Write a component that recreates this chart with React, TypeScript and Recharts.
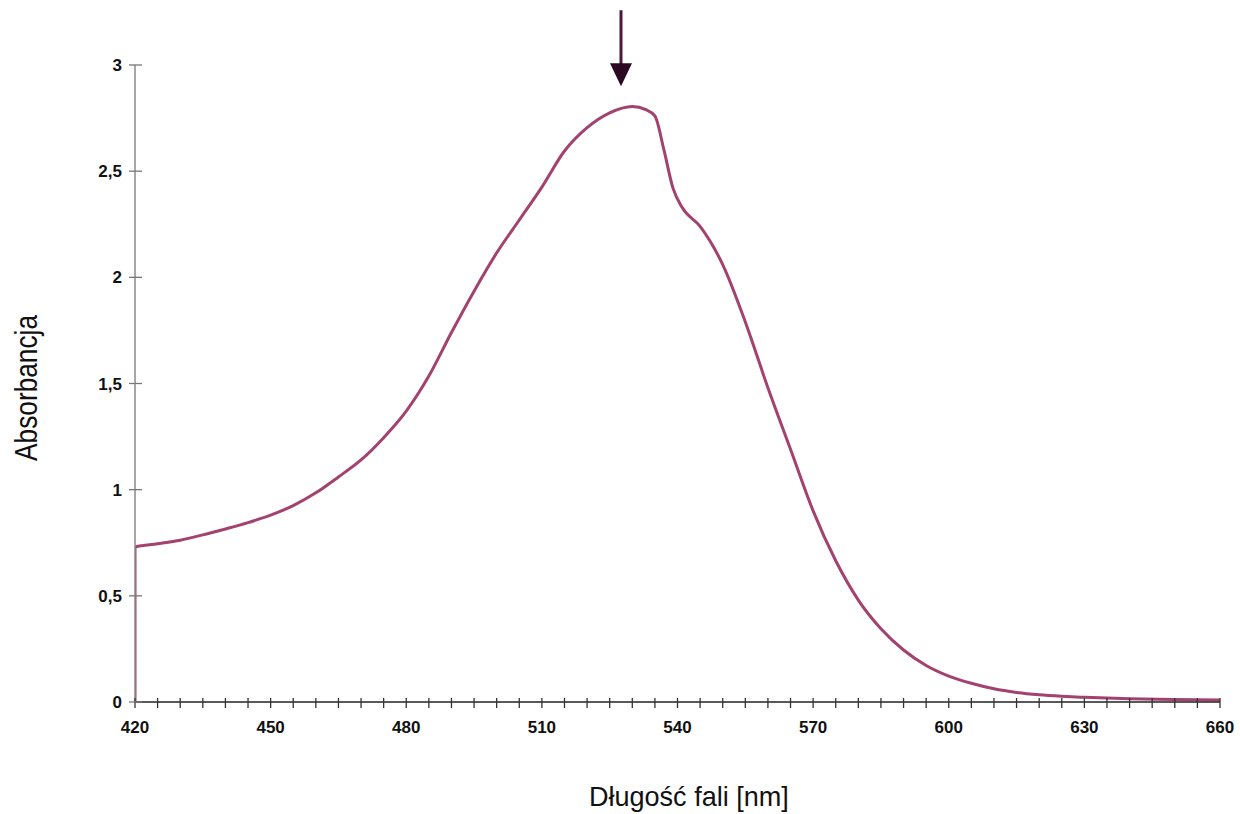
import React from "react";
import { LineChart, Line, XAxis, YAxis, ReferenceDot, Label } from "recharts";

const wavelengths: number[] = [
  420, 420, 425, 430, 435, 440, 445, 450, 455, 460, 465, 470, 475, 480, 485, 490,
  495, 500, 505, 510, 515, 520, 525, 530, 533, 535, 537, 539, 541, 545, 550, 555,
  560, 565, 570, 575, 580, 585, 590, 595, 600, 605, 610, 615, 620, 625, 630, 640,
  650, 660,
];
const absorbance: number[] = [
  0, 0.73, 0.745, 0.762, 0.787, 0.815, 0.845, 0.88, 0.925, 0.985, 1.06, 1.14, 1.245,
  1.37, 1.535, 1.74, 1.935, 2.115, 2.27, 2.425, 2.595, 2.705, 2.775, 2.805, 2.79,
  2.76, 2.6, 2.42, 2.33, 2.24, 2.06, 1.79, 1.48, 1.19, 0.9, 0.665, 0.48, 0.345,
  0.245, 0.172, 0.122, 0.088, 0.062, 0.045, 0.034, 0.027, 0.022, 0.015, 0.012, 0.009,
];
const xTicks: number[] = [
  420, 425, 430, 435, 440, 445, 450, 455, 460, 465, 470, 475, 480, 485, 490, 495,
  500, 505, 510, 515, 520, 525, 530, 535, 540, 545, 550, 555, 560, 565, 570, 575,
  580, 585, 590, 595, 600, 605, 610, 615, 620, 625, 630, 635, 640, 645, 650, 655, 660,
];
const xLabelled: number[] = [420, 450, 480, 510, 540, 570, 600, 630, 660];
const yTicks: number[] = [0, 0.5, 1, 1.5, 2, 2.5, 3];
const arrowAt = { nm: 527.5, value: 2.9 };
const xTitle = "Długość fali [nm]";
const yTitle = "Absorbancja";

const data = wavelengths.map((nm, i) => ({ nm, a: absorbance[i] }));

const FONT = "'Liberation Sans', Arial, Helvetica, sans-serif";

const XTick = (props: any) => {
  const { x, y, payload } = props;
  const v = payload.value;
  return (
    <g>
      <line x1={x} x2={x} y1={y - 4} y2={y + 6} stroke="#333" strokeWidth={1.3} />
      {xLabelled.includes(v) && (
        <text x={x} y={y + 31} textAnchor="middle" fontFamily={FONT} fontWeight="bold" fontSize={17} fill="#111">
          {v}
        </text>
      )}
    </g>
  );
};

const YTick = (props: any) => {
  const { x, y, payload } = props;
  const label = String(payload.value).replace(".", ",");
  return (
    <g>
      <line x1={x - 6} x2={x + 7} y1={y} y2={y} stroke="#777" strokeWidth={1.3} />
      <text x={x - 13} y={y + 6} textAnchor="end" fontFamily={FONT} fontWeight="bold" fontSize={17} fill="#111">
        {label}
      </text>
    </g>
  );
};

const Arrow = (props: any) => {
  const { cx, cy } = props;
  if (cx == null || cy == null) return null;
  return (
    <g>
      <line x1={cx} x2={cx} y1={cy - 76} y2={cy - 20} stroke="#4a1a3c" strokeWidth={3} />
      <polygon points={`${cx - 11},${cy - 23} ${cx + 11},${cy - 23} ${cx},${cy}`} fill="#2a0822" />
    </g>
  );
};

export default function App() {
  return (
    <div style={{ position: "absolute", left: 0, top: 0, background: "#fff" }}>
      <LineChart
        width={1240}
        height={814}
        data={data}
        margin={{ top: 65, right: 20, bottom: 82, left: 75 }}
      >
        <XAxis
          dataKey="nm"
          type="number"
          domain={[420, 660]}
          ticks={xTicks}
          interval={0}
          tick={<XTick />}
          tickLine={false}
          tickSize={0}
          tickMargin={0}
          height={30}
          axisLine={{ stroke: "#222", strokeWidth: 1.5 }}
          allowDataOverflow
        >
          <Label
            content={(p: any) => {
              const vb = p.viewBox;
              return (
                <text
                  x={vb.x + vb.width * 0.5105}
                  y={vb.y + 104}
                  textAnchor="middle"
                  fontFamily={FONT}
                  fontSize={28}
                  textLength={200}
                  lengthAdjust="spacingAndGlyphs"
                  fill="#111"
                >
                  {xTitle}
                </text>
              );
            }}
          />
        </XAxis>
        <YAxis
          type="number"
          domain={[0, 3]}
          ticks={yTicks}
          interval={0}
          tick={<YTick />}
          tickLine={false}
          tickSize={0}
          tickMargin={0}
          width={60}
          axisLine={{ stroke: "#8a8a8a", strokeWidth: 1.5 }}
        >
          <Label
            content={(p: any) => {
              const vb = p.viewBox;
              const cx = 37;
              const cy = vb.y + vb.height * 0.507;
              return (
                <text
                  x={cx}
                  y={cy}
                  transform={`rotate(-90 ${cx} ${cy})`}
                  textAnchor="middle"
                  fontFamily={FONT}
                  fontSize={32}
                  textLength={146}
                  lengthAdjust="spacingAndGlyphs"
                  fill="#111"
                >
                  {yTitle}
                </text>
              );
            }}
          />
        </YAxis>
        <Line
          type="monotone"
          dataKey="a"
          stroke="#a3416f"
          strokeWidth={3}
          dot={false}
          isAnimationActive={false}
        />
        <ReferenceDot
          x={arrowAt.nm}
          y={arrowAt.value}
          r={0}
          ifOverflow="visible"
          shape={<Arrow />}
        />
      </LineChart>
    </div>
  );
}
